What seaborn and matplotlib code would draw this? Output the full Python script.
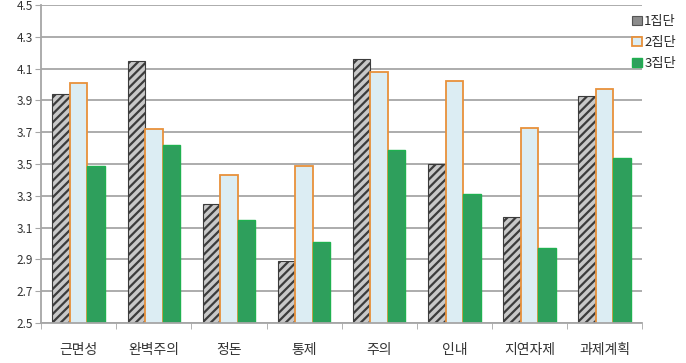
import matplotlib
matplotlib.use("Agg")
import matplotlib.pyplot as plt
import numpy as np
import pandas as pd
import seaborn as sns

# --- data ---
categories = ['근면성', '완벽주의', '정돈', '통제', '주의', '인내', '지연자제', '과제계획']
groups = ['1집단', '2집단', '3집단']
group1 = [3.94, 4.15, 3.25, 2.89, 4.16, 3.50, 3.17, 3.93]
group2 = [4.01, 3.72, 3.43, 3.49, 4.08, 4.02, 3.73, 3.97]
group3 = [3.49, 3.62, 3.15, 3.01, 3.59, 3.31, 2.97, 3.54]
y_ticks = [2.5, 2.7, 2.9, 3.1, 3.3, 3.5, 3.7, 3.9, 4.1, 4.3, 4.5]

df = pd.DataFrame({
    'category': categories * 3,
    'group': [groups[0]] * 8 + [groups[1]] * 8 + [groups[2]] * 8,
    'value': group1 + group2 + group3,
})

sns.set_style('white')
plt.rcParams['font.family'] = ['Noto Sans CJK KR', 'DejaVu Sans']
plt.rcParams['hatch.linewidth'] = 1.6

fig = plt.figure(figsize=(6.86, 3.63), dpi=100)
ax = fig.add_axes([0.06, 0.11, 0.876, 0.876])

sns.barplot(data=df, x='category', y='value', hue='group', order=categories,
            hue_order=groups, width=0.7, ax=ax, legend=True, errorbar=None)

styles = [
    dict(facecolor='#c8c8c8', edgecolor='#3c3c3c', hatch='////', linewidth=0.8),
    dict(facecolor='#dcedf3', edgecolor='#e8913a', hatch=None, linewidth=1.3),
    dict(facecolor='#2e9f5c', edgecolor='#1fb050', hatch=None, linewidth=1.0),
]


def apply_style(p, st):
    p.set_facecolor(st['facecolor'])
    p.set_edgecolor(st['edgecolor'])
    p.set_linewidth(st['linewidth'])
    if st['hatch']:
        p.set_hatch(st['hatch'])


for cont, st in zip(ax.containers, styles):
    for p in cont:
        apply_style(p, st)

ax.set_ylim(2.5, 4.5)
ax.set_xlim(-0.5, len(categories) - 0.5)
ax.set_yticks(y_ticks)
ax.set_yticklabels([f'{t:.1f}' for t in y_ticks], fontsize=8.5, color='#333333')
ax.yaxis.grid(True, color='#a6a6a6', linewidth=1.3)
ax.set_axisbelow(True)
ax.tick_params(axis='y', length=4, color='#a6a6a6', pad=2, left=True)

ax.set_xticks(np.arange(len(categories)))
ax.set_xticklabels(categories, fontsize=10, color='#333333')
ax.set_xticks(np.arange(len(categories) + 1) - 0.5, minor=True)
ax.tick_params(axis='x', which='major', length=0, pad=14)
ax.tick_params(axis='x', which='minor', length=4, color='#a6a6a6', bottom=True)
ax.set_xlabel('')
ax.set_ylabel('')

for side in ['top', 'right']:
    ax.spines[side].set_visible(False)
for side in ['left', 'bottom']:
    ax.spines[side].set_color('#a6a6a6')
    ax.spines[side].set_linewidth(1.3)

handles, labels = ax.get_legend_handles_labels()
leg = ax.legend(handles, labels, loc='upper left', bbox_to_anchor=(0.975, 0.985),
                frameon=False, fontsize=9.5, handlelength=0.7, handleheight=0.7,
                handletextpad=0.2, labelspacing=0.6, borderaxespad=0)
for h, st in zip(leg.legend_handles, styles):
    apply_style(h, st)
leg.legend_handles[0].set_hatch('')
leg.legend_handles[0].set_facecolor('#8c8c8c')
leg.legend_handles[0].set_edgecolor('#555555')

fig.savefig('out.png', dpi=100)
